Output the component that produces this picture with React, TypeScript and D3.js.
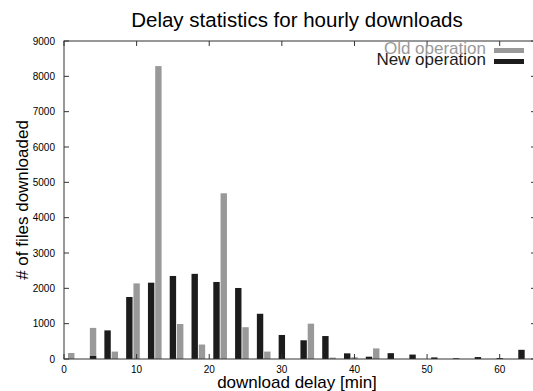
import React from 'react';
import * as d3 from 'd3';

// old operation (gray)
const oldDelay = [1, 4, 7, 10, 13, 16, 19, 22, 25, 28, 34, 37, 40, 43];
const oldCount = [170, 880, 210, 2140, 8290, 990, 410, 4690, 900, 210, 1000, 40, 50, 300];

// new operation (black)
const newDelay = [4, 6, 9, 12, 15, 18, 21, 24, 27, 30, 33, 36, 39, 42, 45, 48, 51, 54, 57, 60, 63];
const newCount = [85, 810, 1755, 2160, 2350, 2410, 2180, 2010, 1280, 680, 530, 650, 160, 65, 165, 125, 45, 20, 55, 25, 260];

const xTicks = [0, 10, 20, 30, 40, 50, 60];
const yTicks = [0, 1000, 2000, 3000, 4000, 5000, 6000, 7000, 8000, 9000];

const seriesNames = ['Old operation', 'New operation'];
const seriesColors = ['#999999', '#1c1c1c'];

const W = 533;
const H = 391;
const left = 64;
const right = 536;
const top = 41;
const bottom = 359;
const font = '"Liberation Sans", Arial, Helvetica, sans-serif';

const App = () => {
  const x = d3.scaleLinear().domain([0, 65]).range([left, right]);
  const y = d3.scaleLinear().domain([0, 9000]).range([bottom, top]);
  const bw = x(0.88) - x(0);

  const oldBars = oldDelay.map((d, i) => ({ d, v: oldCount[i] }));
  const newBars = newDelay.map((d, i) => ({ d, v: newCount[i] }));

  return (
    <svg width={W} height={H} style={{ position: 'absolute', left: 0, top: 0, background: '#fff' }}>
      <text x={297} y={27} textAnchor="middle" fontFamily={font} fontSize={20.5} fill="#000">
        Delay statistics for hourly downloads
      </text>

      {/* bars */}
      {oldBars.map((b, i) => (
        <rect key={'o' + i} x={x(b.d) - bw / 2} y={y(b.v)} width={bw} height={bottom - y(b.v)} fill={seriesColors[0]} />
      ))}
      {newBars.map((b, i) => (
        <rect key={'n' + i} x={x(b.d) - bw / 2} y={y(b.v)} width={bw} height={bottom - y(b.v)} fill={seriesColors[1]} />
      ))}

      {/* frame */}
      <rect x={left} y={top} width={right - left} height={bottom - top} fill="none" stroke="#333" strokeWidth={1} />

      {xTicks.map((t) => (
        <g key={'x' + t}>
          <line x1={x(t)} x2={x(t)} y1={bottom} y2={bottom - 5} stroke="#333" />
          <line x1={x(t)} x2={x(t)} y1={top} y2={top + 5} stroke="#333" />
          <text x={x(t)} y={373} textAnchor="middle" fontFamily={font} fontSize={10} fill="#000">
            {t}
          </text>
        </g>
      ))}
      {yTicks.map((t) => (
        <g key={'y' + t}>
          <line x1={left} x2={left + 5} y1={y(t)} y2={y(t)} stroke="#333" />
          <line x1={right} x2={right - 5} y1={y(t)} y2={y(t)} stroke="#333" />
          <text x={55} y={y(t)} dy="0.35em" textAnchor="end" fontFamily={font} fontSize={10} fill="#000">
            {t}
          </text>
        </g>
      ))}

      {/* legend */}
      {seriesNames.map((n, i) => (
        <g key={n}>
          <text x={486} y={54 + i * 11} textAnchor="end" fontFamily={font} fontSize={17} fill={seriesColors[i]}>
            {n}
          </text>
          <rect x={494} y={48 + i * 11} width={30} height={5} fill={seriesColors[i]} />
        </g>
      ))}

      <text
        transform={`translate(28,${(top + bottom) / 2}) rotate(-90)`}
        textAnchor="middle"
        fontFamily={font}
        fontSize={17}
        fill="#000"
      >
        # of files downloaded
      </text>
      <text x={297} y={388} textAnchor="middle" fontFamily={font} fontSize={17} fill="#000">
        download delay [min]
      </text>
    </svg>
  );
};

export default App;
